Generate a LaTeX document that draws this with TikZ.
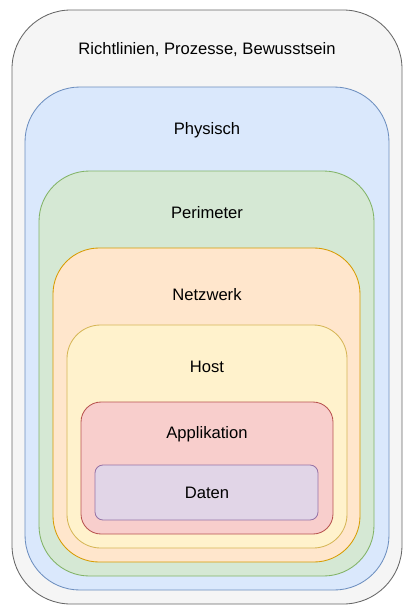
\documentclass[tikz,border=0pt]{standalone}
\usepackage{fontspec}
\setmainfont{Liberation Sans}
\usepackage{tikz}
\definecolor{grayfill}{HTML}{F5F5F5}\definecolor{graydraw}{HTML}{666666}
\definecolor{bluefill}{HTML}{DAE8FC}\definecolor{bluedraw}{HTML}{6C8EBF}
\definecolor{greenfill}{HTML}{D5E8D4}\definecolor{greendraw}{HTML}{82B366}
\definecolor{orangefill}{HTML}{FFE6CC}\definecolor{orangedraw}{HTML}{D79B00}
\definecolor{yellowfill}{HTML}{FFF2CC}\definecolor{yellowdraw}{HTML}{D6B656}
\definecolor{redfill}{HTML}{F8CECC}\definecolor{reddraw}{HTML}{B85450}
\definecolor{purplefill}{HTML}{E1D5E7}\definecolor{purpledraw}{HTML}{9673A6}
\tikzset{
layer/.style={line width=0.6pt},
layertext/.style={font=\fontsize{11.8}{14}\selectfont, text=black, inner sep=0pt}
}

\begin{document}
\begin{tikzpicture}[x=0.025cm,y=-0.025cm]
\useasboundingbox (0,0) rectangle (413,614);
% schichten von aussen nach innen
\filldraw[layer, fill=grayfill, draw=graydraw, rounded corners=1.47cm] (12,10) rectangle (402,604);
\filldraw[layer, fill=bluefill, draw=bluedraw, rounded corners=1.37cm] (25,87) rectangle (389,590);
\filldraw[layer, fill=greenfill, draw=greendraw, rounded corners=1.26cm] (39,171) rectangle (374,576);
\filldraw[layer, fill=orangefill, draw=orangedraw, rounded corners=1.15cm] (53,248) rectangle (360,562);
\filldraw[layer, fill=yellowfill, draw=yellowdraw, rounded corners=0.84cm] (67,325) rectangle (347,548);
\filldraw[layer, fill=redfill, draw=reddraw, rounded corners=0.5cm] (81,402) rectangle (333,534);
\filldraw[layer, fill=purplefill, draw=purpledraw, rounded corners=0.2cm] (95,465) rectangle (318,520);
%
\node[layertext] (richtlinien) at (207,50) {Richtlinien, Prozesse, Bewusstsein};
\node[layertext] (physisch) at (207,130) {Physisch};
\node[layertext] (perimeter) at (207,213) {Perimeter};
\node[layertext] (netzwerk) at (207,295) {Netzwerk};
\node[layertext] (host) at (207,367) {Host};
\node[layertext] (applikation) at (207,434) {Applikation};
\node[layertext] (daten) at (207,493) {Daten};
\end{tikzpicture}
\end{document}
